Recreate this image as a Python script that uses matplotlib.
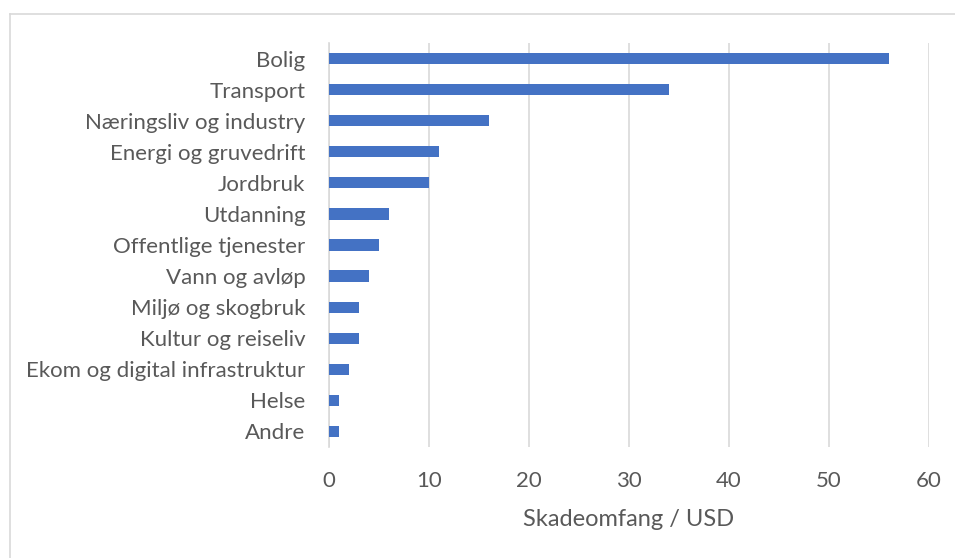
import matplotlib.pyplot as plt
from matplotlib.lines import Line2D

categories = [
    "Bolig", "Transport", "Næringsliv og industry", "Energi og gruvedrift",
    "Jordbruk", "Utdanning", "Offentlige tjenester", "Vann og avløp",
    "Miljø og skogbruk", "Kultur og reiseliv", "Ekom og digital infrastruktur",
    "Helse", "Andre",
]
values = [56, 34, 16, 11, 10, 6, 5, 4, 3, 3, 2, 1, 1]
x_ticks = [0, 10, 20, 30, 40, 50, 60]

text_color = "#595959"
grid_color = "#d9d9d9"
bar_color = "#4472c4"

plt.rcParams["font.family"] = ["Lato", "DejaVu Sans"]

fig = plt.figure(figsize=(9.55, 5.58), dpi=100)
ax = fig.add_axes([329 / 955, 1 - 447 / 558, 600 / 955, 404 / 558])

ypos = list(range(len(categories)))
ax.barh(ypos, values, height=0.36, color=bar_color, zorder=3)
ax.set_yticks(ypos)
ax.set_yticklabels(categories)
ax.set_ylim(len(categories) - 0.5, -0.5)
ax.set_xlim(0, 60)
ax.set_xticks(x_ticks)

ax.grid(axis="x", color=grid_color, linewidth=1.2, zorder=0)
for side in ["top", "right", "bottom"]:
    ax.spines[side].set_visible(False)
ax.spines["left"].set_color(grid_color)
ax.spines["left"].set_linewidth(1.2)
ax.tick_params(length=0, labelsize=16, labelcolor=text_color)
ax.tick_params(axis="y", pad=17)
ax.tick_params(axis="x", pad=17)
ax.set_xlabel("Skadeomfang / USD", fontsize=17, color=text_color, labelpad=13)

# outer chart frame (left and top edges visible)
fig.add_artist(Line2D([10 / 955, 10 / 955], [0, 1 - 14 / 558],
                      transform=fig.transFigure, color=grid_color, linewidth=1.2))
fig.add_artist(Line2D([10 / 955, 1], [1 - 14 / 558, 1 - 14 / 558],
                      transform=fig.transFigure, color=grid_color, linewidth=1.2))

fig.savefig("out.png", dpi=100, facecolor="white")
